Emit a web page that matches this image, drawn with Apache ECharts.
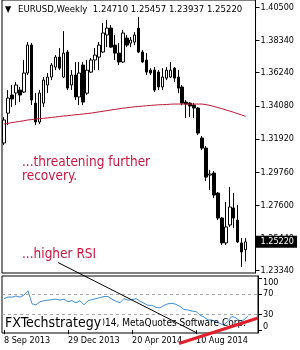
<!DOCTYPE html>
<html>
<head>
<meta charset="utf-8">
<script src="https://cdn.jsdelivr.net/npm/echarts@6/dist/echarts.min.js"></script>
<style>
html, body { margin: 0; padding: 0; background: #fff; }
#chart { width: 300px; height: 350px; }
</style>
</head>
<body>
<div id="chart"></div>
<script>
// weekly EURUSD bars, first bar = week of 8 Sep 2013
const firstWeek = '2013-09-08';
const opens  = [1.3166,1.3361,1.3479,1.3492,1.3511,1.3498,1.3622,1.3804,1.3426,1.3303,1.3426,1.3544,1.3596,1.3661,1.3726,1.3596,1.3759,1.3544,1.3609,1.3466,1.3674,1.3491,1.3628,1.3707,1.3726,1.3759,1.3870,1.3915,1.3804,1.3752,1.3694,1.3850,1.3817,1.3824,1.3915,1.3759,1.3707,1.3641,1.3641,1.3628,1.3531,1.3589,1.3596,1.3654,1.3596,1.3531,1.3433,1.3426,1.3413,1.3394,1.3199,1.3133,1.2957,1.2970,1.2840,1.2677,1.2515,1.2632,1.2743,1.2664,1.2515,1.24710];
const highs  = [1.3335,1.3511,1.3544,1.3563,1.3531,1.3707,1.3824,1.3817,1.3492,1.3511,1.3596,1.3622,1.3687,1.3739,1.3785,1.3895,1.3772,1.3641,1.3693,1.3693,1.3693,1.3707,1.3720,1.3785,1.3824,1.3948,1.3967,1.3935,1.3870,1.3817,1.3902,1.3870,1.3857,1.3889,1.3987,1.3772,1.3752,1.3654,1.3661,1.3641,1.3654,1.3661,1.3693,1.3661,1.3641,1.3544,1.3446,1.3433,1.3426,1.3400,1.3212,1.3146,1.2990,1.2983,1.2847,1.2684,1.2782,1.2880,1.2840,1.2762,1.2547,1.25457];
const lows   = [1.3153,1.3283,1.3400,1.3413,1.3433,1.3492,1.3609,1.3413,1.3283,1.3290,1.3400,1.3492,1.3576,1.3641,1.3641,1.3589,1.3511,1.3511,1.3446,1.3413,1.3413,1.3479,1.3622,1.3641,1.3641,1.3752,1.3791,1.3785,1.3707,1.3674,1.3687,1.3791,1.3791,1.3804,1.3752,1.3687,1.3609,1.3609,1.3498,1.3511,1.3511,1.3576,1.3589,1.3563,1.3491,1.3413,1.3329,1.3335,1.3329,1.3218,1.3120,1.2918,1.2860,1.2808,1.2664,1.2502,1.2502,1.2619,1.2612,1.2515,1.2358,1.23937];
const closes = [1.3316,1.3459,1.3453,1.3544,1.3479,1.3622,1.3804,1.3446,1.3303,1.3492,1.3576,1.3596,1.3674,1.3726,1.3654,1.3752,1.3524,1.3609,1.3466,1.3622,1.3433,1.3641,1.3707,1.3739,1.3804,1.3883,1.3915,1.3791,1.3752,1.3694,1.3883,1.3804,1.3837,1.3870,1.3759,1.3694,1.3628,1.3622,1.3511,1.3531,1.3596,1.3641,1.3641,1.3589,1.3524,1.3426,1.3420,1.3407,1.3394,1.3231,1.3133,1.2944,1.2964,1.2827,1.2677,1.2515,1.2619,1.2749,1.2677,1.2521,1.2456,1.25220];
const maValues = [1.3290,1.3294,1.3299,1.3303,1.3307,1.3311,1.3316,1.3319,1.3322,1.3325,1.3327,1.3330,1.3333,1.3335,1.3339,1.3342,1.3344,1.3347,1.3350,1.3352,1.3355,1.3358,1.3361,1.3365,1.3369,1.3373,1.3377,1.3381,1.3385,1.3389,1.3393,1.3396,1.3399,1.3402,1.3404,1.3407,1.3409,1.3411,1.3413,1.3415,1.3416,1.3417,1.3419,1.3420,1.3420,1.3420,1.3420,1.3420,1.3420,1.3420,1.3420,1.3416,1.3411,1.3404,1.3397,1.3390,1.3382,1.3374,1.3366,1.3357,1.3349,1.3340];
const rsiValues = [61,64,64,66,64,68,76,51,49,55,57,58,59,60,58,60,55,57,53,57,49,57,59,61,63,65,65,60,56,53,61,58,59,61,56,52,48,48,44,43,48,51,52,50,46,40,39,37,36,29,25.5,19.7,19.7,16,13,10,18,27,23.5,18,20,28.0158];

const priceTicks = [1.405, 1.3834, 1.3624, 1.3408, 1.3192, 1.2976, 1.276, 1.2544, 1.2334];
const rsiTicks = [0, 30, 70, 100];
const rsiLevels = [70, 30];
const dateLabels = { 0: '8 Sep 2013', 16: '29 Dec 2013', 32: '20 Apr 2014', 48: '10 Aug 2014' };
const lastBar = { open: 1.24710, high: 1.25457, low: 1.23937, close: 1.25220 };

const FONT = '"DejaVu Sans Condensed", "DejaVu Sans", sans-serif';

// category per week, plus two empty slots for the chart shift on the right
const cats = [];
const d0 = new Date(firstWeek + 'T00:00:00Z');
for (let i = 0; i < opens.length; i++) {
    const d = new Date(d0.getTime() + i * 7 * 86400000);
    cats.push(d.toISOString().slice(0, 10));
}
cats.push('', '');

const candleData = opens.map((o, i) => [o, closes[i], lows[i], highs[i]]);

const chart = echarts.init(document.getElementById('chart'), null, { renderer: 'canvas' });

const option = {
    animation: false,
    backgroundColor: '#fff',
    textStyle: { fontFamily: FONT },
    grid: [
        { left: 2, top: 0, width: 256, height: 273, show: true, borderColor: '#000', borderWidth: 1 },
        { left: 2, top: 276, width: 256, height: 57, show: true, borderColor: '#000', borderWidth: 1 }
    ],
    xAxis: [
        { type: 'category', gridIndex: 0, data: cats, show: false },
        {
            type: 'category', gridIndex: 1, data: cats,
            axisLine: { show: false },
            axisTick: {
                show: true, length: 4, alignWithLabel: true,
                interval: (idx) => dateLabels[idx] !== undefined,
                lineStyle: { color: '#000' }
            },
            axisLabel: {
                interval: (idx) => dateLabels[idx] !== undefined,
                formatter: (v, idx) => dateLabels[idx] || '',
                align: 'left', margin: 3,
                color: '#000', fontSize: 9, fontFamily: FONT
            }
        }
    ],
    yAxis: [
        {
            type: 'value', gridIndex: 0, position: 'right',
            min: 1.2319, max: 1.4098, scale: true,
            axisLine: { show: true, lineStyle: { color: '#000' } },
            axisTick: { show: true, length: 4, customValues: priceTicks, lineStyle: { color: '#000' } },
            axisLabel: {
                customValues: priceTicks, formatter: (v) => v.toFixed(5),
                margin: 5, color: '#000', fontSize: 9, fontFamily: FONT
            },
            splitLine: { show: false }
        },
        {
            type: 'value', gridIndex: 0, position: 'right',
            min: 1.2319, max: 1.4098, scale: true,
            axisLine: { show: false }, axisTick: { show: false },
            axisLabel: {
                customValues: [lastBar.close], formatter: (v) => v.toFixed(5),
                margin: 0, color: '#fff', backgroundColor: '#000',
                padding: [2, 3, 1, 5], fontSize: 9, fontFamily: FONT
            },
            splitLine: { show: false }
        },
        {
            type: 'value', gridIndex: 1, position: 'right',
            min: -5.4, max: 104.7,
            axisLine: { show: true, lineStyle: { color: '#000' } },
            axisTick: { show: true, length: 4, customValues: rsiTicks, lineStyle: { color: '#000' } },
            axisLabel: {
                customValues: rsiTicks,
                formatter: (v) => v === 100 ? '{top|100}' : (v === 0 ? '{bot|0}' : String(v)),
                rich: {
                    top: { padding: [9, 0, 0, 0], fontSize: 9, fontFamily: FONT, color: '#000' },
                    bot: { padding: [0, 0, 8, 0], fontSize: 9, fontFamily: FONT, color: '#000' }
                },
                margin: 5, color: '#000', fontSize: 9, fontFamily: FONT
            },
            splitLine: { show: false }
        }
    ],
    series: [
        {
            name: 'EURUSD', type: 'candlestick', xAxisIndex: 0, yAxisIndex: 0,
            data: candleData, barWidth: 3,
            itemStyle: { color: '#fff', color0: '#000', borderColor: '#000', borderColor0: '#000', borderWidth: 1 }
        },
        {
            name: 'MA', type: 'line', xAxisIndex: 0, yAxisIndex: 0,
            data: maValues, symbol: 'none',
            lineStyle: { color: '#b8173a', width: 1 }
        },
        {
            name: 'RSI(9)', type: 'line', xAxisIndex: 1, yAxisIndex: 2,
            data: rsiValues, symbol: 'none',
            lineStyle: { color: '#3f8fd2', width: 1 },
            markLine: {
                silent: true, symbol: 'none', label: { show: false },
                lineStyle: { color: '#a8a8a8', type: [3, 3], width: 1 },
                data: rsiLevels.map(v => ({ yAxis: v }))
            }
        }
    ],
    graphic: [
        { type: 'text', left: 5, top: 5, z: 50, style: { text: '▼', fill: '#000', font: '9px ' + FONT } },
        {
            type: 'text', left: 18, top: 5, z: 50,
            style: {
                text: 'EURUSD,Weekly  ' + [lastBar.open, lastBar.high, lastBar.low, lastBar.close].map(v => v.toFixed(5)).join(' '),
                fill: '#000', font: '9.5px ' + FONT
            }
        },
        {
            type: 'text', left: 22, top: 155, z: 50,
            style: { text: '...threatening further\nrecovery.', fill: '#cc1640', font: '13.5px ' + FONT, lineHeight: 14 }
        },
        { type: 'text', left: 22, top: 247, z: 50, style: { text: '...higher RSI', fill: '#cc1640', font: '13.5px ' + FONT } },
        {
            type: 'text', right: 54, top: 318, z: 40,
            style: { text: '\u00a9 2001-2014, MetaQuotes Software Corp.', fill: '#000', font: '10px ' + FONT }
        },
        {
            type: 'text', left: 5, top: 315, z: 45,
            style: { text: 'FXTechstrategy', fill: '#000', font: '14px ' + FONT, backgroundColor: '#fff', padding: [1, 2, 0, 0] }
        },
        { type: 'line', z: 60, shape: { x1: 58, y1: 262.5, x2: 197, y2: 333 }, style: { stroke: '#000', lineWidth: 1 } },
        { type: 'line', z: 60, shape: { x1: 179, y1: 343.5, x2: 258, y2: 318 }, style: { stroke: '#e0202c', lineWidth: 3 } }
    ]
};

chart.setOption(option);
</script>
</body>
</html>
